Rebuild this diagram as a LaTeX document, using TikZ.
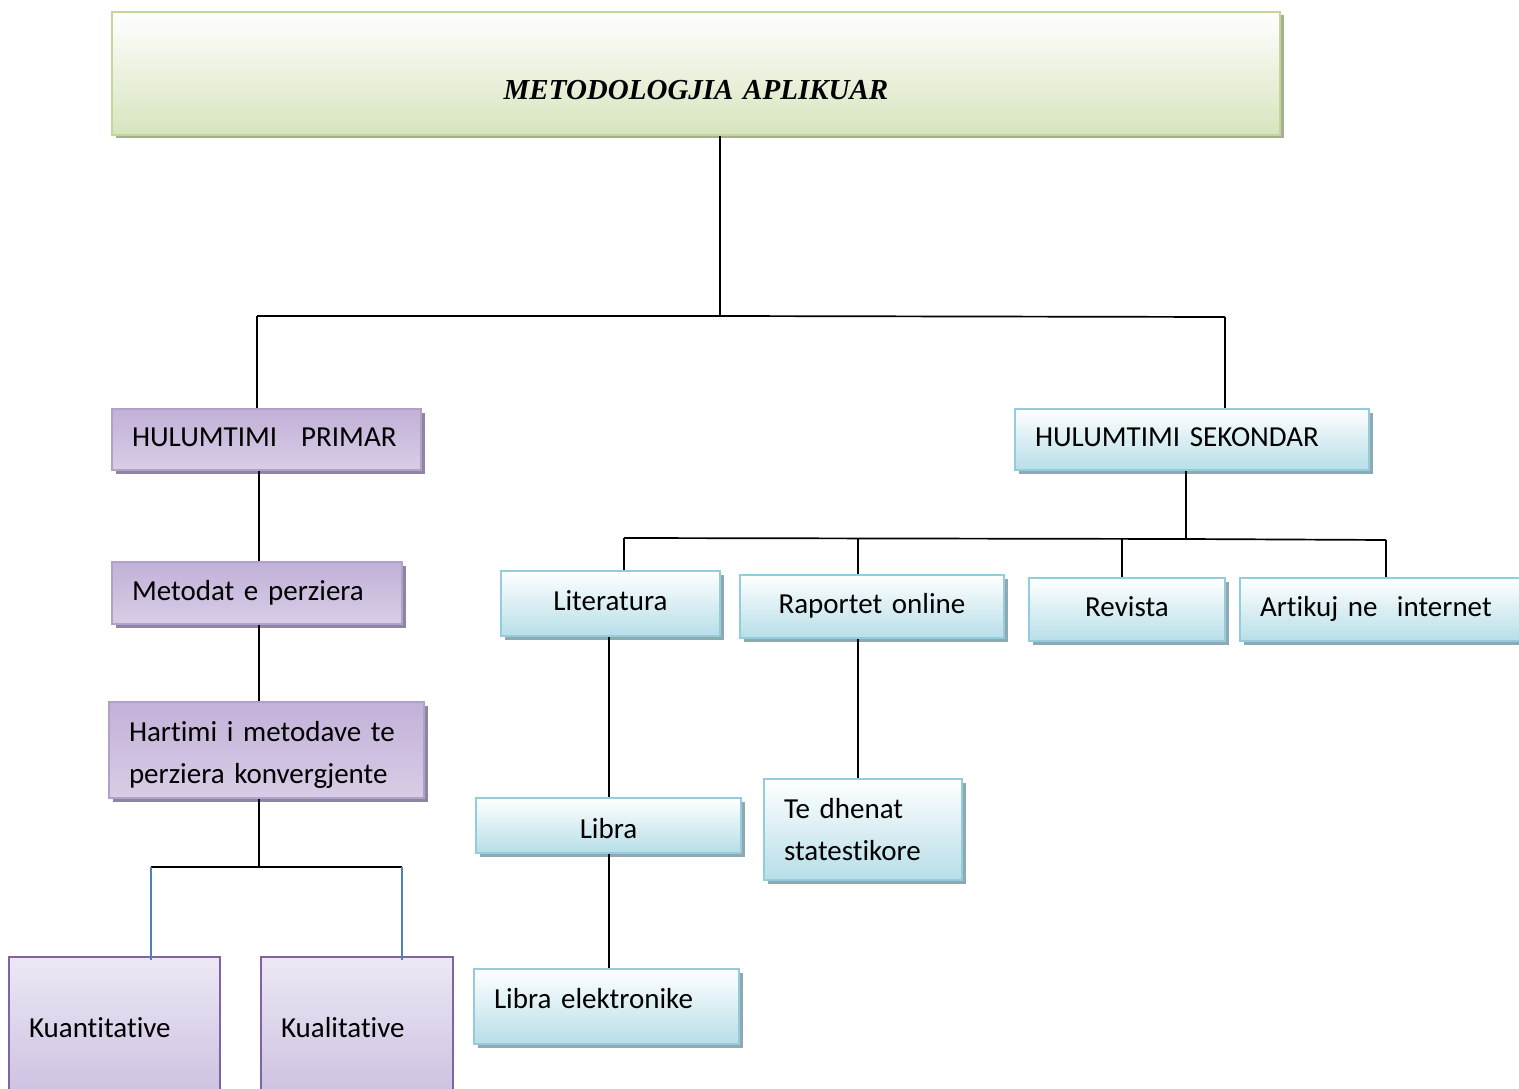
\documentclass[tikz,border=0pt]{standalone}
\usepackage{fontspec}
\setmainfont{Carlito}[Ligatures=NoCommon]
\newfontfamily\titlefont{Liberation Serif}
\definecolor{grnB}{HTML}{C3D69B}
\definecolor{grnF}{HTML}{D7E4BD}
\definecolor{grnS}{HTML}{A4B08E}
\definecolor{bluB}{HTML}{93CDDD}
\definecolor{bluF}{HTML}{B7DEE8}
\definecolor{bluS}{HTML}{8EA9B2}
\definecolor{purB}{HTML}{B2A1C7}
\definecolor{purT}{HTML}{C2B1D8}
\definecolor{purM}{HTML}{EBE6F2}
\definecolor{purBo}{HTML}{D8CDE6}
\definecolor{purS}{HTML}{8E84A3}
\definecolor{purB2}{HTML}{8064A2}
\definecolor{purT2}{HTML}{EDE8F5}
\definecolor{purF2}{HTML}{CCC0E0}
\definecolor{linkblue}{HTML}{4F81BD}
\hyphenpenalty=10000
\begin{document}
\begin{tikzpicture}[x=1pt,y=-1pt,
  conn/.style={line width=1.7pt, black},
  bconn/.style={line width=1.7pt, linkblue},
  base/.style={rectangle, inner ysep=0pt, inner xsep=20pt, line width=1.8pt,
    font=\fontsize{29}{42}\selectfont, text=black, text height=19pt, text depth=5pt},
  shad/.style={preaction={fill=#1, transform canvas={shift={(3.5pt,-3.5pt)}}}},
  greenbox/.style={base, draw=grnB, top color=white, bottom color=grnF, shad=grnS},
  bluebox/.style={base, draw=bluB, top color=white, bottom color=bluF, shad=bluS},
  purbox/.style={base, draw=purB, top color=purT, middle color=purM, bottom color=purBo, shad=purS},
  purbig/.style={base, draw=purB2, top color=purT2, bottom color=purF2},
  lft/.style={text width=#1pt-40pt, align=left},
  ctr/.style={text width=#1pt-40pt, align=center}
]
\useasboundingbox (0,0) rectangle (1519,1089);

% title
\node[greenbox, ctr=1168, minimum width=1168, minimum height=123,
  font=\fontsize{29}{34}\selectfont\titlefont\bfseries\itshape, text height=58pt, text depth=5pt]
  (title) at (696,73.5) {METODOLOGJIA APLIKUAR};

% primary branch
\node[purbox, lft=309, minimum width=309, minimum height=61] (hp) at (266.5,439.5) {HULUMTIMI\hspace{24pt}PRIMAR};
\node[purbox, lft=290, minimum width=290, minimum height=62] (mp) at (257,593) {Metodat e perziera};
\node[purbox, lft=315, minimum width=315, minimum height=96, text depth=37pt] (hm) at (266.5,750) {Hartimi i metodave te\\perziera konvergjente};
\node[purbig, lft=211, minimum width=211, minimum height=142, text height=23pt] (kn) at (114.5,1028) {Kuantitative};
\node[purbig, lft=192, minimum width=192, minimum height=142, text height=23pt] (kl) at (357,1028) {Kualitative};

% secondary branch
\node[bluebox, lft=354, minimum width=354, minimum height=61] (hs) at (1192,439.5) {HULUMTIMI SEKONDAR};
\node[bluebox, ctr=219, minimum width=219, minimum height=65] (lit) at (610.5,603.5) {Literatura};
\node[bluebox, ctr=264, minimum width=264, minimum height=63] (rap) at (872,606.5) {Raportet online};
\node[bluebox, ctr=196, minimum width=196, minimum height=63] (rev) at (1127,609.5) {Revista};
\node[bluebox, lft=295, minimum width=295, minimum height=63] (art) at (1387.5,609.5) {Artikuj ne\ \ internet};
\node[bluebox, ctr=265, minimum width=265, minimum height=55, text height=30pt] (lib) at (608.5,825.5) {Libra};
\node[bluebox, lft=198, minimum width=198, minimum height=101, text depth=42pt] (ted) at (863,829.5) {Te dhenat\\statestikore};
\node[bluebox, lft=265, minimum width=265, minimum height=75, text depth=16pt] (lel) at (606.5,1006.5) {Libra elektronike};

% junction coordinates
\coordinate (j0) at (720,316);
\coordinate (jl) at (257,316);
\coordinate (jr) at (1225,317);
\coordinate (j1) at (259,867);
\coordinate (j1l) at (151,867);
\coordinate (j1r) at (402,867);
\coordinate (j2) at (1186,539);
\coordinate (j2a) at (624,538);
\coordinate (j2b) at (858,538);
\coordinate (j2c) at (1122,539);
\coordinate (j2d) at (1386,540);
\coordinate (jlib) at (609,0);

% connectors
\draw[conn] (title.south -| j0) -- (j0);
\draw[conn] (jl) -- (j0) -- (jr);
\draw[conn] (jl) -- (hp.north -| jl);
\draw[conn] (jr) -- (hs.north -| jr);
\draw[conn] (hp.south -| j1) -- (mp.north -| j1);
\draw[conn] (mp.south -| j1) -- (hm.north -| j1);
\draw[conn] (hm.south -| j1) -- (j1);
\draw[conn] (j1l) -- (j1r);
\draw[bconn] (j1l) -- ([yshift=-4pt]kn.north -| j1l);
\draw[bconn] (j1r) -- ([yshift=-4pt]kl.north -| j1r);
\draw[conn] (hs.south -| j2) -- (j2);
\draw[conn] (j2a) -- (j2) -- (j2d);
\draw[conn] (j2a) -- (lit.north -| j2a);
\draw[conn] (j2b) -- (rap.north -| j2b);
\draw[conn] (j2c) -- (rev.north -| j2c);
\draw[conn] (j2d) -- (art.north -| j2d);
\draw[conn] (lit.south -| jlib) -- (lib.north -| jlib);
\draw[conn] (lib.south -| jlib) -- (lel.north -| jlib);
\draw[conn] (rap.south -| j2b) -- (ted.north -| j2b);
\end{tikzpicture}
\end{document}
